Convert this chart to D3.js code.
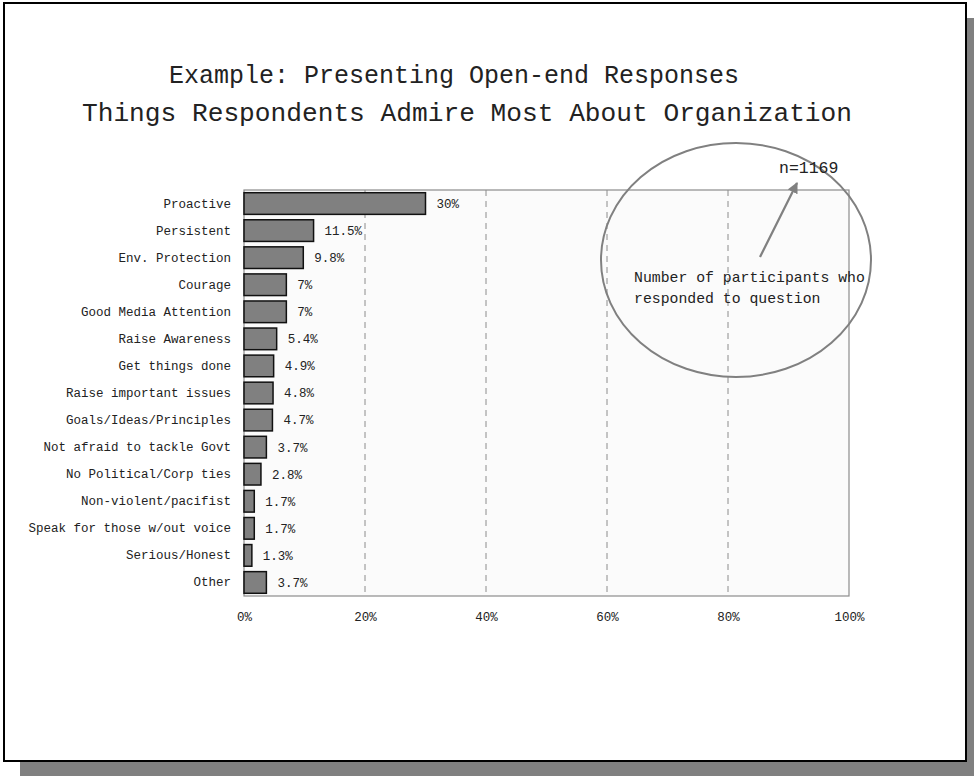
<!DOCTYPE html>
<html>
<head>
<meta charset="utf-8">
<script src="https://cdn.jsdelivr.net/npm/d3@7"></script>
<style>
  html, body { margin: 0; padding: 0; background: #ffffff; }
  svg { display: block; }
  text { font-family: "Liberation Mono", "DejaVu Sans Mono", monospace; fill: #222; }
</style>
</head>
<body>
<svg id="chart" width="974" height="776"></svg>
<script>
// Categories and shares (%) of responses
const categories = [
  "Proactive", "Persistent", "Env. Protection", "Courage", "Good Media Attention",
  "Raise Awareness", "Get things done", "Raise important issues", "Goals/Ideas/Principles",
  "Not afraid to tackle Govt", "No Political/Corp ties", "Non-violent/pacifist",
  "Speak for those w/out voice", "Serious/Honest", "Other"
];
const values = [30, 11.5, 9.8, 7, 7, 5.4, 4.9, 4.8, 4.7, 3.7, 2.8, 1.7, 1.7, 1.3, 3.7];
const valueLabels = ["30%", "11.5%", "9.8%", "7%", "7%", "5.4%", "4.9%", "4.8%", "4.7%",
  "3.7%", "2.8%", "1.7%", "1.7%", "1.3%", "3.7%"];
const xTicks = [0, 20, 40, 60, 80, 100];
const titleText = "Example: Presenting Open-end Responses";
const subtitleText = "Things Respondents Admire Most About Organization";
const sampleText = "n=1169";
const noteLines = ["Number of participants who", "responded to question"];

const svg = d3.select("#chart");

// Slide frame with drop shadow
svg.append("rect").attr("x", 20).attr("y", 18).attr("width", 954).attr("height", 758).attr("fill", "#808080");
svg.append("rect").attr("x", 4).attr("y", 3).attr("width", 962).attr("height", 758)
  .attr("fill", "#ffffff").attr("stroke", "#000").attr("stroke-width", 2);

// Titles
svg.append("text").attr("x", 454).attr("y", 83).attr("text-anchor", "middle")
  .attr("font-size", 25).attr("fill", "#333").text(titleText);
svg.append("text").attr("x", 467).attr("y", 121).attr("text-anchor", "middle")
  .attr("font-size", 26.2).attr("fill", "#555").text(subtitleText);

// Plot area
const plot = { left: 244, top: 190, right: 849, bottom: 596 };
const x = d3.scaleLinear().domain([0, 100]).range([plot.left, plot.right]);
const y = d3.scaleBand().domain(categories).range([plot.top, plot.bottom]).paddingInner(0.2).paddingOuter(0.1);

svg.append("rect").attr("x", plot.left).attr("y", plot.top)
  .attr("width", plot.right - plot.left).attr("height", plot.bottom - plot.top)
  .attr("fill", "#fbfbfb").attr("stroke", "#8c8c8c").attr("stroke-width", 1.2);

// Dashed vertical gridlines
svg.append("g").selectAll("line").data(xTicks.filter(t => t > 0 && t < 100)).join("line")
  .attr("x1", d => x(d)).attr("x2", d => x(d))
  .attr("y1", plot.top).attr("y2", plot.bottom)
  .attr("stroke", "#8c8c8c").attr("stroke-width", 1).attr("stroke-dasharray", "6,5");

// X axis tick labels
const xAxis = d3.axisBottom(x).tickValues(xTicks).tickFormat(d => d + "%").tickSize(0).tickPadding(16);
const gx = svg.append("g").attr("transform", `translate(0,${plot.bottom})`).call(xAxis);
gx.select(".domain").remove();
gx.selectAll("text").attr("font-family", "Liberation Mono, monospace").attr("font-size", 12.5).attr("fill", "#222");

// Category labels
const yAxis = d3.axisLeft(y).tickSize(0).tickPadding(13);
const gy = svg.append("g").attr("transform", `translate(${plot.left},0)`).call(yAxis);
gy.select(".domain").remove();
gy.selectAll("text").attr("font-family", "Liberation Mono, monospace").attr("font-size", 12.5).attr("fill", "#222");

// Bars
svg.append("g").selectAll("rect").data(values).join("rect")
  .attr("x", x(0)).attr("y", (d, i) => y(categories[i]))
  .attr("width", d => x(d) - x(0)).attr("height", y.bandwidth())
  .attr("fill", "#808080").attr("stroke", "#111").attr("stroke-width", 1.5);

// Value labels
svg.append("g").selectAll("text").data(values).join("text")
  .attr("x", d => x(d) + 11).attr("y", (d, i) => y(categories[i]) + y.bandwidth() / 2)
  .attr("dy", "0.35em").attr("font-size", 12.5).attr("fill", "#222")
  .text((d, i) => valueLabels[i]);

// Sample size callout
svg.append("ellipse").attr("cx", 736).attr("cy", 260).attr("rx", 135).attr("ry", 117)
  .attr("fill", "none").attr("stroke", "#808080").attr("stroke-width", 2);
svg.append("text").attr("x", 779).attr("y", 173).attr("font-size", 16.5).attr("fill", "#222").text(sampleText);
svg.append("defs").append("marker").attr("id", "arrow").attr("viewBox", "0 0 10 10")
  .attr("refX", 9).attr("refY", 5).attr("markerWidth", 5).attr("markerHeight", 5).attr("orient", "auto")
  .append("path").attr("d", "M0,0L10,5L0,10z").attr("fill", "#808080");
svg.append("line").attr("x1", 760).attr("y1", 257).attr("x2", 797).attr("y2", 183)
  .attr("stroke", "#808080").attr("stroke-width", 2.2).attr("marker-end", "url(#arrow)");
svg.append("g").selectAll("text").data(noteLines).join("text")
  .attr("x", 634).attr("y", (d, i) => 282 + i * 21).attr("font-size", 14.8).attr("fill", "#222")
  .text(d => d);
</script>
</body>
</html>
